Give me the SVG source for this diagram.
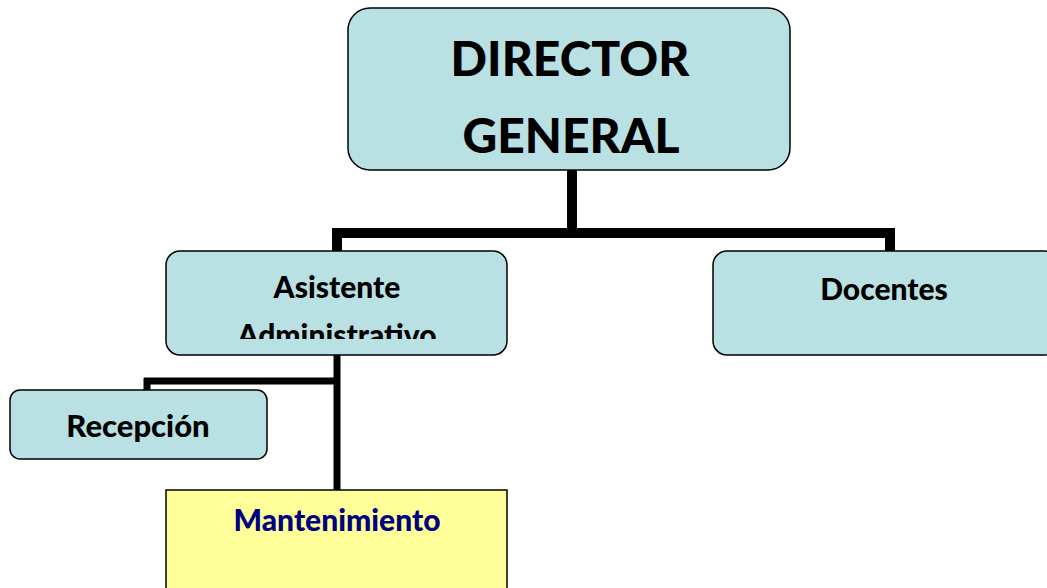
<svg xmlns="http://www.w3.org/2000/svg" width="1047" height="588" viewBox="0 0 1047 588">
<style>
.box{fill:#b9e0e3;stroke:#000;stroke-width:1.5}
.t{font-family:Lato,"Liberation Sans",sans-serif;font-weight:900;fill:#000;text-anchor:middle}
.s{font-size:30px}
.c{fill:none;stroke:#000;stroke-linecap:butt;stroke-linejoin:miter}
</style>
<defs>
<clipPath id="clipA"><rect x="166" y="251" width="341" height="88"/></clipPath>
</defs>
<rect width="1047" height="588" fill="#fff"/>
<g id="connectors">
<path class="c" stroke-width="10" d="M572,170 V233 M332,233 H895 M337,228 V251 M890,228 V251"/>
<path class="c" stroke-width="7" d="M337,355 V490 M144,381 H340 M147,378 V390"/>
</g>
<g id="director">
<rect class="box" x="348" y="8" width="442" height="162" rx="22"/>
<text class="t" x="570" y="76" font-size="48">DIRECTOR</text>
<text class="t" x="571" y="153" font-size="48">GENERAL</text>
</g>
<g id="asistente">
<rect class="box" x="166" y="251" width="341" height="104" rx="14"/>
<g clip-path="url(#clipA)">
<text class="t s" x="337" y="298">Asistente</text>
<text class="t s" x="337" y="346">Administrativo</text>
</g>
</g>
<g id="docentes">
<rect class="box" x="713" y="251" width="345" height="104" rx="14"/>
<text class="t s" x="884" y="300">Docentes</text>
</g>
<g id="recepcion">
<rect class="box" x="10" y="390" width="257" height="69" rx="10"/>
<text class="t s" x="138" y="437" style="font-size:31px">Recepción</text>
</g>
<g id="mantenimiento">
<rect x="166" y="490" width="341" height="110" fill="#ffff99" stroke="#000" stroke-width="1.5"/>
<text class="t s" x="337" y="531" style="fill:#000080">Mantenimiento</text>
</g>
</svg>
